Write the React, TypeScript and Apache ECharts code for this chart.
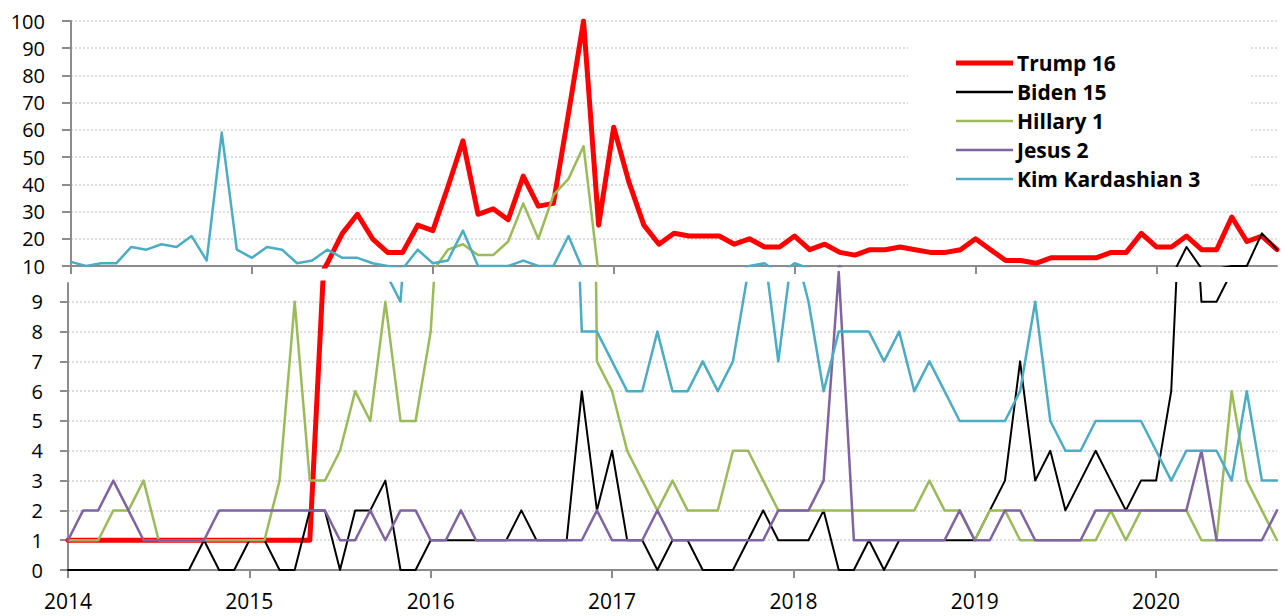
import React, { useEffect, useRef } from 'react';
import * as echarts from 'echarts';

const years = ['2014', '2015', '2016', '2017', '2018', '2019', '2020'];
const monthsInLastYear = 9;
const months: string[] = [];
years.forEach((y, yi) => {
  const n = yi === years.length - 1 ? monthsInLastYear : 12;
  for (let m = 1; m <= n; m++) months.push(`${y}-${m < 10 ? '0' + m : m}`);
});

const seriesNames = ['Trump 16', 'Biden 15', 'Hillary 1', 'Jesus 2', 'Kim Kardashian 3'];
const seriesColors = ['#ff0000', '#000000', '#9bbb59', '#8064a2', '#4bacc6'];
const seriesWidths = [5, 2, 2.5, 2.5, 2.5];

const trump = [
  1, 1, 1, 1, 1, 1, 1, 1, 1, 1, 1, 1, 1, 1, 1, 1, 1,
  11, 22, 29, 20, 15, 15, 25, 23, 39, 56,
  29, 31, 27, 43, 32, 33, 66, 100, 25, 61,
  41, 25, 18, 22, 21, 21, 21, 18, 20, 17,
  17, 21, 16, 18, 15, 14, 16, 16, 17, 16,
  15, 15, 16, 20, 16, 12, 12, 11, 13, 13,
  13, 13, 15, 15, 22, 17, 17, 21, 16, 16,
  28, 19, 21, 16,
];
const biden = [
  0, 0, 0, 0, 0, 0, 0, 0, 0,
  1, 0, 0, 1, 1, 0, 0, 2, 2, 0,
  2, 2, 3, 0, 0, 1, 1, 1, 1, 1,
  1, 2, 1, 1, 1, 6, 2, 4, 1, 1,
  0, 1, 1, 0, 0, 0, 1, 2, 1, 1,
  1, 2, 0, 0, 1, 0, 1, 1, 1, 1,
  1, 1, 2, 3, 7, 3, 4, 2, 3, 4,
  3, 2, 3, 3, 6, 17, 9, 9, 10, 10,
  22, 16,
];
const hillary = [
  1, 1, 1, 2, 2, 3, 1, 1, 1, 1,
  1, 1, 1, 1, 3, 9, 3, 3, 4, 6,
  5, 9, 5, 5, 8, 16, 18, 14, 14, 19,
  33, 20, 36, 42, 54, 7, 6, 4, 3, 2,
  3, 2, 2, 2, 4, 4, 3, 2, 2, 2,
  2, 2, 2, 2, 2, 2, 2, 3, 2, 2,
  1, 2, 2, 1, 1, 1, 1, 1, 1, 2,
  1, 2, 2, 2, 2, 1, 1, 6, 3, 2,
  1,
];
const jesus = [
  1, 2, 2, 3, 2, 1, 1, 1, 1, 1,
  2, 2, 2, 2, 2, 2, 2, 2, 1, 1,
  2, 1, 2, 2, 1, 1, 2, 1, 1, 1,
  1, 1, 1, 1, 1, 2, 1, 1, 1, 2,
  1, 1, 1, 1, 1, 1, 1, 2, 2, 2,
  3, 10, 1, 1, 1, 1, 1, 1, 1, 2,
  1, 1, 2, 2, 1, 1, 1, 1, 2, 2,
  2, 2, 2, 2, 2, 4, 1, 1, 1, 1,
  2,
];
const kim = [
  11.5, 10, 11, 11, 17, 16, 18, 17, 21, 12,
  59, 16, 13, 17, 16, 11, 12, 16, 13, 13,
  11, 10, 9, 16, 11, 12, 23, 10, 10, 10,
  12, 10, 10, 21, 8, 8, 7, 6, 6, 8,
  6, 6, 7, 6, 7, 10, 11, 7, 11, 9,
  6, 8, 8, 8, 7, 8, 6, 7, 6, 5,
  5, 5, 5, 6, 9, 5, 4, 4, 5, 5,
  5, 5, 4, 3, 4, 4, 4, 3, 6, 3,
  3,
];
const allSeries = [trump, biden, hillary, jesus, kim];

const FONT = "'Open Sans', 'DejaVu Sans', sans-serif";
const AXIS_COLOR = '#8c8c8c';
const GRID_COLOR = '#d4d4d4';

export default function App() {
  const ref = useRef<HTMLDivElement>(null);
  useEffect(() => {
    if (!ref.current) return;
    const chart = echarts.init(ref.current, undefined, { renderer: 'svg' });
    const yearTick = (index: number) => index % 12 === 0;

    const series: any[] = [];
    [0, 1].forEach((g) => {
      allSeries.forEach((data, i) => {
        series.push({
          type: 'line',
          name: seriesNames[i],
          xAxisIndex: g,
          yAxisIndex: g,
          data,
          color: seriesColors[i],
          symbol: 'none',
          showSymbol: false,
          silent: true,
          clip: !(g === 1 && i === 3),
          lineStyle: { width: seriesWidths[i], color: seriesColors[i], cap: 'round', join: 'round' },
        });
      });
    });

    const option: any = {
      animation: false,
      backgroundColor: '#ffffff',
      grid: [
        { left: 71, right: 5, top: 21, height: 245 },
        { left: 68, right: 5, top: 283, height: 287 },
      ],
      legend: {
        orient: 'vertical',
        left: 908,
        top: 35,
        padding: [17, 49, 10, 48],
        backgroundColor: '#ffffff',
        itemWidth: 57,
        itemHeight: 14,
        itemGap: 7,
        itemStyle: { borderWidth: 0 },
        textStyle: { fontFamily: FONT, fontWeight: 'bold', fontSize: 21, color: '#000', lineHeight: 22, padding: [0, 0, 0, -1] },
        data: seriesNames.map((n, i) => ({
          name: n,
          icon: i === 0 ? 'path://M0,0H57V5H0Z' : 'path://M0,0H57V2.5H0Z',
        })),
        selectedMode: false,
      },
      xAxis: [0, 1].map((g) => ({
        type: 'category',
        gridIndex: g,
        data: months,
        boundaryGap: false,
        axisLine: { onZero: false, lineStyle: { color: AXIS_COLOR, width: 2 } },
        axisTick: { show: true, interval: yearTick, length: 8, lineStyle: { color: AXIS_COLOR, width: 2 } },
        axisLabel: {
          show: g === 1,
          interval: yearTick,
          formatter: (v: string) => v.slice(0, 4),
          fontFamily: FONT,
          fontSize: 21,
          color: '#000',
          margin: 20,
        },
        splitLine: { show: false },
      })),
      yAxis: [
        {
          type: 'value',
          gridIndex: 0,
          min: 10,
          max: 100,
          interval: 10,
          axisLine: { show: true, lineStyle: { color: AXIS_COLOR, width: 2 } },
          axisTick: { show: true, length: 9, lineStyle: { color: AXIS_COLOR, width: 2 } },
          axisLabel: { fontFamily: FONT, fontSize: 20, color: '#000', margin: 26 },
          splitLine: { show: true, showMinLine: false, lineStyle: { color: GRID_COLOR, type: [2, 2], width: 1.5 } },
        },
        {
          type: 'value',
          gridIndex: 1,
          min: 0,
          max: 9.63,
          interval: 1,
          axisLine: { show: true, lineStyle: { color: AXIS_COLOR, width: 2 } },
          axisTick: { show: true, length: 8, lineStyle: { color: AXIS_COLOR, width: 2 } },
          axisLabel: {
            fontFamily: FONT,
            fontSize: 20,
            color: '#000',
            margin: 25,
            showMaxLabel: false,
            formatter: (v: number) => (Number.isInteger(v) ? String(v) : ''),
          },
          splitLine: { show: true, showMinLine: false, showMaxLine: false, lineStyle: { color: GRID_COLOR, type: [2, 2], width: 1.5 } },
        },
      ],
      series,
    };
    chart.setOption(option);
    return () => chart.dispose();
  }, []);
  return <div ref={ref} style={{ position: 'fixed', left: 0, top: 0, width: 1282, height: 616 }} />;
}
